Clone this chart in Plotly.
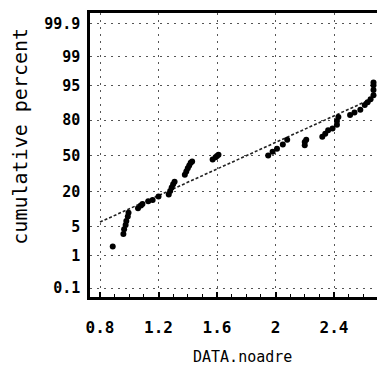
from statistics import NormalDist
import plotly.graph_objects as go

# ---- data ----
data_x = [0.887, 0.96, 0.965, 0.975, 0.98, 0.99, 0.995,
          1.06, 1.08, 1.09, 1.13, 1.16, 1.20,
          1.27, 1.28, 1.29, 1.30, 1.31,
          1.38, 1.39, 1.40, 1.41, 1.42, 1.43,
          1.57, 1.59, 1.60, 1.61,
          1.95, 1.98, 2.01, 2.05, 2.08,
          2.20, 2.20, 2.21,
          2.32, 2.34, 2.36, 2.39,
          2.42, 2.42, 2.43,
          2.51, 2.54, 2.58,
          2.61, 2.63, 2.65,
          2.67, 2.67, 2.67, 2.67]
cum_percent = [1.7, 3.4, 4.3, 5.3, 6.4, 7.8, 9.2,
               11.1, 12.3, 13.1, 14.5, 15.2, 17.1,
               18.4, 20.6, 23.0, 25.5, 27.4,
               33.0, 35.9, 38.6, 41.3, 43.6, 44.8,
               46.8, 48.8, 50.0, 51.2,
               50.5, 54.0, 56.7, 60.6, 64.8,
               60.0, 62.9, 64.8,
               67.4, 69.8, 72.6, 73.9,
               76.7, 79.4, 81.9,
               83.1, 84.6, 86.0,
               88.3, 89.6, 90.8,
               92.2, 93.9, 95.1, 95.7]

fit_x = [0.80, 2.66]
fit_percent = [6.1, 91.0]

y_tick_percent = [0.1, 1, 5, 20, 50, 80, 95, 99, 99.9]
y_tick_text = ["0.1", "1", "5", "20", "50", "80", "95", "99", "99.9"]
x_tick_vals = [0.8, 1.2, 1.6, 2.0, 2.4]
x_tick_text = ["0.8", "1.2", "1.6", "2", "2.4"]

# normal-probability axis transform
nd = NormalDist()
def zq(p):
    return nd.inv_cdf(p / 100.0)

FONT = "DejaVu Sans Mono"

fig = go.Figure()
fig.add_trace(go.Scatter(
    x=fit_x, y=[zq(p) for p in fit_percent], mode="lines",
    line=dict(color="#222", width=1.6, dash="3px,2px"),
    hoverinfo="skip", showlegend=False))
fig.add_trace(go.Scatter(
    x=data_x, y=[zq(p) for p in cum_percent], mode="markers",
    marker=dict(color="black", size=6, line=dict(width=0)),
    showlegend=False))

fig.update_layout(
    width=387, height=375,
    margin=dict(l=90, r=10, t=10, b=78),
    paper_bgcolor="white", plot_bgcolor="white",
    font=dict(family=FONT, size=15, color="black"),
    showlegend=False,
)
fig.update_xaxes(
    range=[0.7316, 2.694],
    tickvals=x_tick_vals, ticktext=x_tick_text,
    showline=True, linecolor="black", linewidth=2.5, mirror=True,
    ticks="inside", ticklen=5, tickwidth=1.5, tickcolor="black",
    minor=dict(dtick=0.1, tick0=0.8, ticks="inside", ticklen=3,
               tickwidth=1.2, tickcolor="black", showgrid=False),
    showgrid=True, gridcolor="#555", gridwidth=1.3, griddash="2px,5px",
    zeroline=False, ticklabelstandoff=14,
    tickfont=dict(family=FONT, size=16, color="black", weight="bold"),
)
fig.update_yaxes(
    range=[-3.299, 3.345],
    tickvals=[zq(p) for p in y_tick_percent], ticktext=y_tick_text,
    showline=True, linecolor="black", linewidth=2.5, mirror=False,
    ticks="", showgrid=True, gridcolor="#555", gridwidth=1.3,
    griddash="2px,5px", zeroline=False, ticklabelstandoff=4,
    tickfont=dict(family=FONT, size=15, color="black", weight="bold"),
)
fig.add_annotation(
    text="cumulative percent", xref="paper", yref="paper",
    x=(20 - 90) / 287, y=(297 - 135) / 287, showarrow=False,
    textangle=-90, xanchor="center", yanchor="middle",
    font=dict(family=FONT, size=20, color="black"))
fig.add_annotation(
    text="DATA.noadre", xref="paper", yref="paper",
    x=(242 - 90) / 287, y=-(358 - 297) / 287, showarrow=False,
    xanchor="center", yanchor="middle",
    font=dict(family=FONT, size=15, color="black"))

fig.write_html("out.html")
